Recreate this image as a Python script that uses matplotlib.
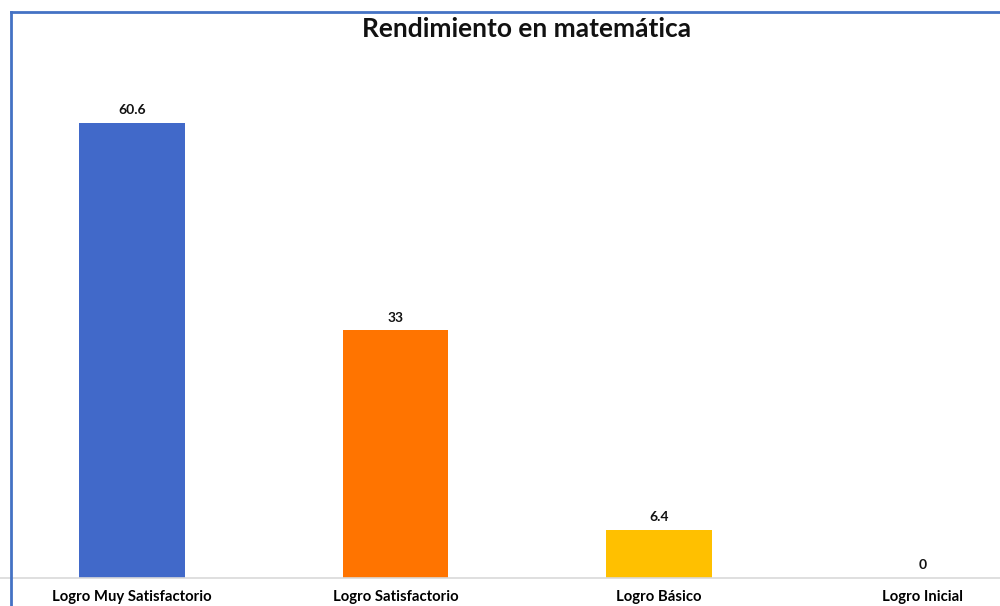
import matplotlib.pyplot as plt
from matplotlib.lines import Line2D

categories = ['Logro Muy Satisfactorio', 'Logro Satisfactorio', 'Logro Básico', 'Logro Inicial']
values = [60.6, 33, 6.4, 0]
value_labels = ['60.6', '33', '6.4', '0']
colors = ['#4169c9', '#ff7400', '#ffc000', '#a5a5a5']

FONT = ['Lato', 'DejaVu Sans']

fig = plt.figure(figsize=(10, 6.06), dpi=100)
fig.patch.set_facecolor('white')

# axes spans the figure; the plot area is cropped a bit on the right like the original
ax = fig.add_axes([0.0, 28 / 606, 1.0, 566 / 606])
ax.set_facecolor('none')

x = list(range(len(categories)))
ax.bar(x, values, width=0.4, color=colors, zorder=2)

for xi, v, lab in zip(x, values, value_labels):
    ax.text(xi, v + 0.9, lab, ha='center', va='bottom', fontsize=10,
            fontweight='bold', family=FONT, color='#111111')

ax.set_xlim(-0.501, 3.294)
ax.set_ylim(0, 75.4)
ax.set_xticks(x)
ax.set_xticklabels(categories, fontsize=10.7, fontweight='bold', family=FONT)
ax.tick_params(axis='x', length=0, pad=9)
ax.set_yticks([])
for side in ['top', 'right', 'left']:
    ax.spines[side].set_visible(False)
ax.spines['bottom'].set_color('#d9d9d9')
ax.spines['bottom'].set_linewidth(1.2)

fig.text(0.527, 1 - 29 / 606, 'Rendimiento en matemática', ha='center', va='center',
         fontsize=19, fontweight='bold', family=FONT, color='#111111')

# blue frame of the original screenshot
fig.add_artist(Line2D([0.011, 0.011], [0, 1 - 12 / 606], color='#4472c4', lw=2))
fig.add_artist(Line2D([0.011, 1.0], [1 - 12 / 606, 1 - 12 / 606], color='#4472c4', lw=2))

fig.savefig('out.png', dpi=100)
